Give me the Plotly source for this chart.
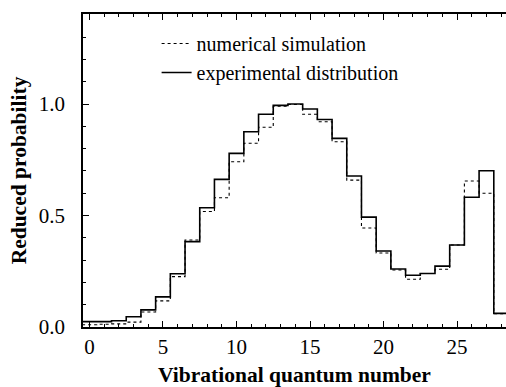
import plotly.graph_objects as go

# vibrational quantum number (bin centres)
quantum_number = list(range(29))

# experimental distribution (solid)
experimental = [0.024, 0.024, 0.028, 0.046, 0.077, 0.135, 0.239, 0.383, 0.535, 0.662,
                0.779, 0.876, 0.954, 0.994, 1.000, 0.978, 0.931, 0.846, 0.677, 0.493,
                0.341, 0.260, 0.232, 0.240, 0.273, 0.368, 0.582, 0.701, 0.061]

# numerical simulation (dotted)
simulation = [0.010, 0.012, 0.014, 0.022, 0.067, 0.117, 0.226, 0.390, 0.518, 0.580,
              0.741, 0.824, 0.896, 0.990, 0.998, 0.954, 0.921, 0.831, 0.659, 0.444,
              0.332, 0.256, 0.214, 0.240, 0.259, 0.368, 0.655, 0.600, 0.060]

x_ticks = [0, 5, 10, 15, 20, 25]
y_ticks = [0.0, 0.5, 1.0]
y_ticktext = ["0.0", "0.5", "1.0"]

# step edges derived from bin centres
edges = [v - 0.5 for v in quantum_number] + [quantum_number[-1] + 0.5]


def steps(vals):
    return list(vals) + [vals[-1]]


FONT = "Liberation Serif, Times New Roman, DejaVu Serif, serif"

fig = go.Figure()
fig.add_trace(go.Scatter(
    x=edges, y=steps(simulation), mode="lines", name="numerical simulation",
    line=dict(shape="hv", color="black", width=1.1, dash="dot")))
fig.add_trace(go.Scatter(
    x=edges, y=steps(experimental), mode="lines", name="experimental distribution",
    line=dict(shape="hv", color="black", width=1.6)))

fig.update_layout(
    width=506, height=387,
    margin=dict(l=83, r=0, t=14, b=60),
    paper_bgcolor="white", plot_bgcolor="white",
    font=dict(family=FONT, color="black", size=20),
    showlegend=True,
    legend=dict(x=0.174, y=0.968, xanchor="left", yanchor="top",
                bgcolor="rgba(0,0,0,0)", font=dict(family=FONT, size=20),
                tracegroupgap=0),
    xaxis=dict(
        range=[-0.44, 28.33], tickvals=x_ticks, ticks="inside", ticklen=6,
        tickwidth=1, tickcolor="black",
        minor=dict(dtick=1, ticks="inside", ticklen=3, tickcolor="black"),
        showline=True, linecolor="black", linewidth=1.5, mirror="ticks",
        showgrid=False, zeroline=False, ticklabelstandoff=0,
        tickfont=dict(family=FONT, size=21),
        title=dict(text="Vibrational quantum number", standoff=9,
                   font=dict(family=FONT, size=21.5, weight="bold")),
    ),
    yaxis=dict(
        range=[0, 1.404], tickvals=y_ticks, ticktext=y_ticktext, ticks="inside",
        ticklen=6, tickwidth=1, tickcolor="black",
        minor=dict(dtick=0.1, ticks="inside", ticklen=3, tickcolor="black"),
        showline=True, linecolor="black", linewidth=1.5, mirror=False,
        showgrid=False, zeroline=False, ticklabelstandoff=12,
        tickfont=dict(family=FONT, size=21),
        title=dict(text="Reduced probability", standoff=6,
                   font=dict(family=FONT, size=21.5, weight="bold")),
    ),
)

fig.write_html("out.html")
